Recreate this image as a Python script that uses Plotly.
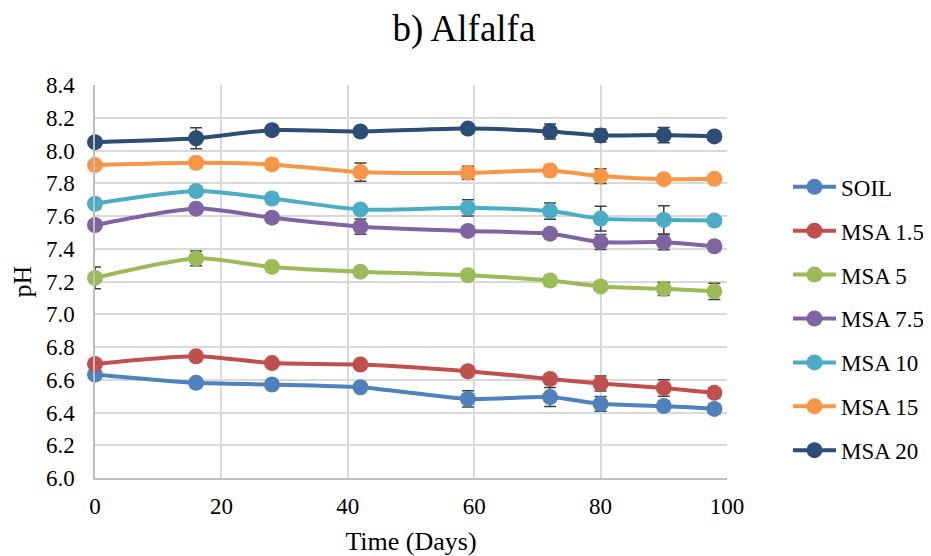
import plotly.graph_objects as go

days = [0, 16, 28, 42, 59, 72, 80, 90, 98]
series_names = ["SOIL", "MSA 1.5", "MSA 5", "MSA 7.5", "MSA 10", "MSA 15", "MSA 20"]

soil = [6.632, 6.581, 6.571, 6.554, 6.483, 6.494, 6.453, 6.439, 6.422]
msa_1_5 = [6.696, 6.743, 6.702, 6.693, 6.652, 6.605, 6.577, 6.550, 6.520]
msa_5 = [7.222, 7.341, 7.289, 7.260, 7.238, 7.206, 7.170, 7.155, 7.140]
msa_7_5 = [7.545, 7.645, 7.590, 7.535, 7.509, 7.492, 7.441, 7.440, 7.415]
msa_10 = [7.675, 7.752, 7.707, 7.640, 7.650, 7.630, 7.584, 7.576, 7.572]
msa_15 = [7.911, 7.925, 7.915, 7.868, 7.864, 7.878, 7.844, 7.825, 7.827]
msa_20 = [8.051, 8.075, 8.124, 8.116, 8.134, 8.116, 8.092, 8.094, 8.086]

soil_err = [0.02, 0.02, 0.02, 0.02, 0.05, 0.058, 0.045, 0.03, 0.03]
msa_1_5_err = [0.02, 0.03, 0.02, 0.02, 0.02, 0.03, 0.046, 0.05, 0.03]
msa_5_err = [0.066, 0.045, 0.02, 0.02, 0.02, 0.03, 0.03, 0.04, 0.05]
msa_7_5_err = [0.02, 0.03, 0.03, 0.046, 0.02, 0.03, 0.046, 0.046, 0.03]
msa_10_err = [0.03, 0.03, 0.03, 0.02, 0.05, 0.05, 0.076, 0.086, 0.02]
msa_15_err = [0.02, 0.03, 0.03, 0.056, 0.04, 0.03, 0.045, 0.02, 0.02]
msa_20_err = [0.02, 0.064, 0.03, 0.02, 0.02, 0.046, 0.04, 0.046, 0.03]

colors = ["#4F81BD", "#C0504D", "#9BBB59", "#8064A2", "#4BACC6", "#F79646", "#2C4D75"]

all_vals = [soil, msa_1_5, msa_5, msa_7_5, msa_10, msa_15, msa_20]
all_errs = [soil_err, msa_1_5_err, msa_5_err, msa_7_5_err, msa_10_err, msa_15_err, msa_20_err]

FONT = "Liberation Serif"

fig = go.Figure()
for name, vals, errs, col in zip(series_names, all_vals, all_errs, colors):
    fig.add_trace(go.Scatter(
        x=days, y=vals, name=name, mode="lines+markers",
        line=dict(color=col, width=4, shape="spline", smoothing=0.7),
        marker=dict(color=col, size=16, line=dict(width=0)),
        error_y=dict(type="data", array=errs, visible=True, color="#404040", thickness=1.5, width=6),
        legendgroup=name, cliponaxis=False,
    ))

# page body adds an 8px offset, so the figure is sized to fill the rest of the window
fig.update_layout(
    width=923, height=548,
    paper_bgcolor="white", plot_bgcolor="white",
    margin=dict(l=87, r=204, t=77, b=78, autoexpand=False),
    font=dict(family=FONT, color="#000000", size=23),
    title=dict(text="b) Alfalfa", x=0.494, xref="container", xanchor="center",
               y=0.963, yref="container", yanchor="middle",
               font=dict(family=FONT, size=37, color="#000000")),
    legend=dict(x=1.0965, xanchor="left", xref="paper", y=0.405, yanchor="middle",
                font=dict(family=FONT, size=23), tracegroupgap=11,
                itemwidth=43, bgcolor="rgba(0,0,0,0)"),
    showlegend=True,
)
fig.update_xaxes(
    range=[0, 100], dtick=20, tick0=0,
    showgrid=True, gridcolor="#D9D9D9", gridwidth=1.5,
    showline=True, linecolor="#BFBFBF", linewidth=1.5,
    zeroline=False, ticks="", ticklabelstandoff=7,
    tickfont=dict(family=FONT, size=23),
    title=dict(text="Time (Days)", font=dict(family=FONT, size=26), standoff=14),
)
fig.update_yaxes(
    range=[6.0, 8.4], dtick=0.2, tick0=6.0, tickformat=".1f",
    showgrid=True, gridcolor="#D9D9D9", gridwidth=1.5,
    showline=True, linecolor="#BFBFBF", linewidth=1.5,
    zeroline=False, ticks="", ticklabelstandoff=14,
    tickfont=dict(family=FONT, size=23),
    title=dict(text="pH", font=dict(family=FONT, size=26), standoff=9),
)

fig.write_html("out.html")
